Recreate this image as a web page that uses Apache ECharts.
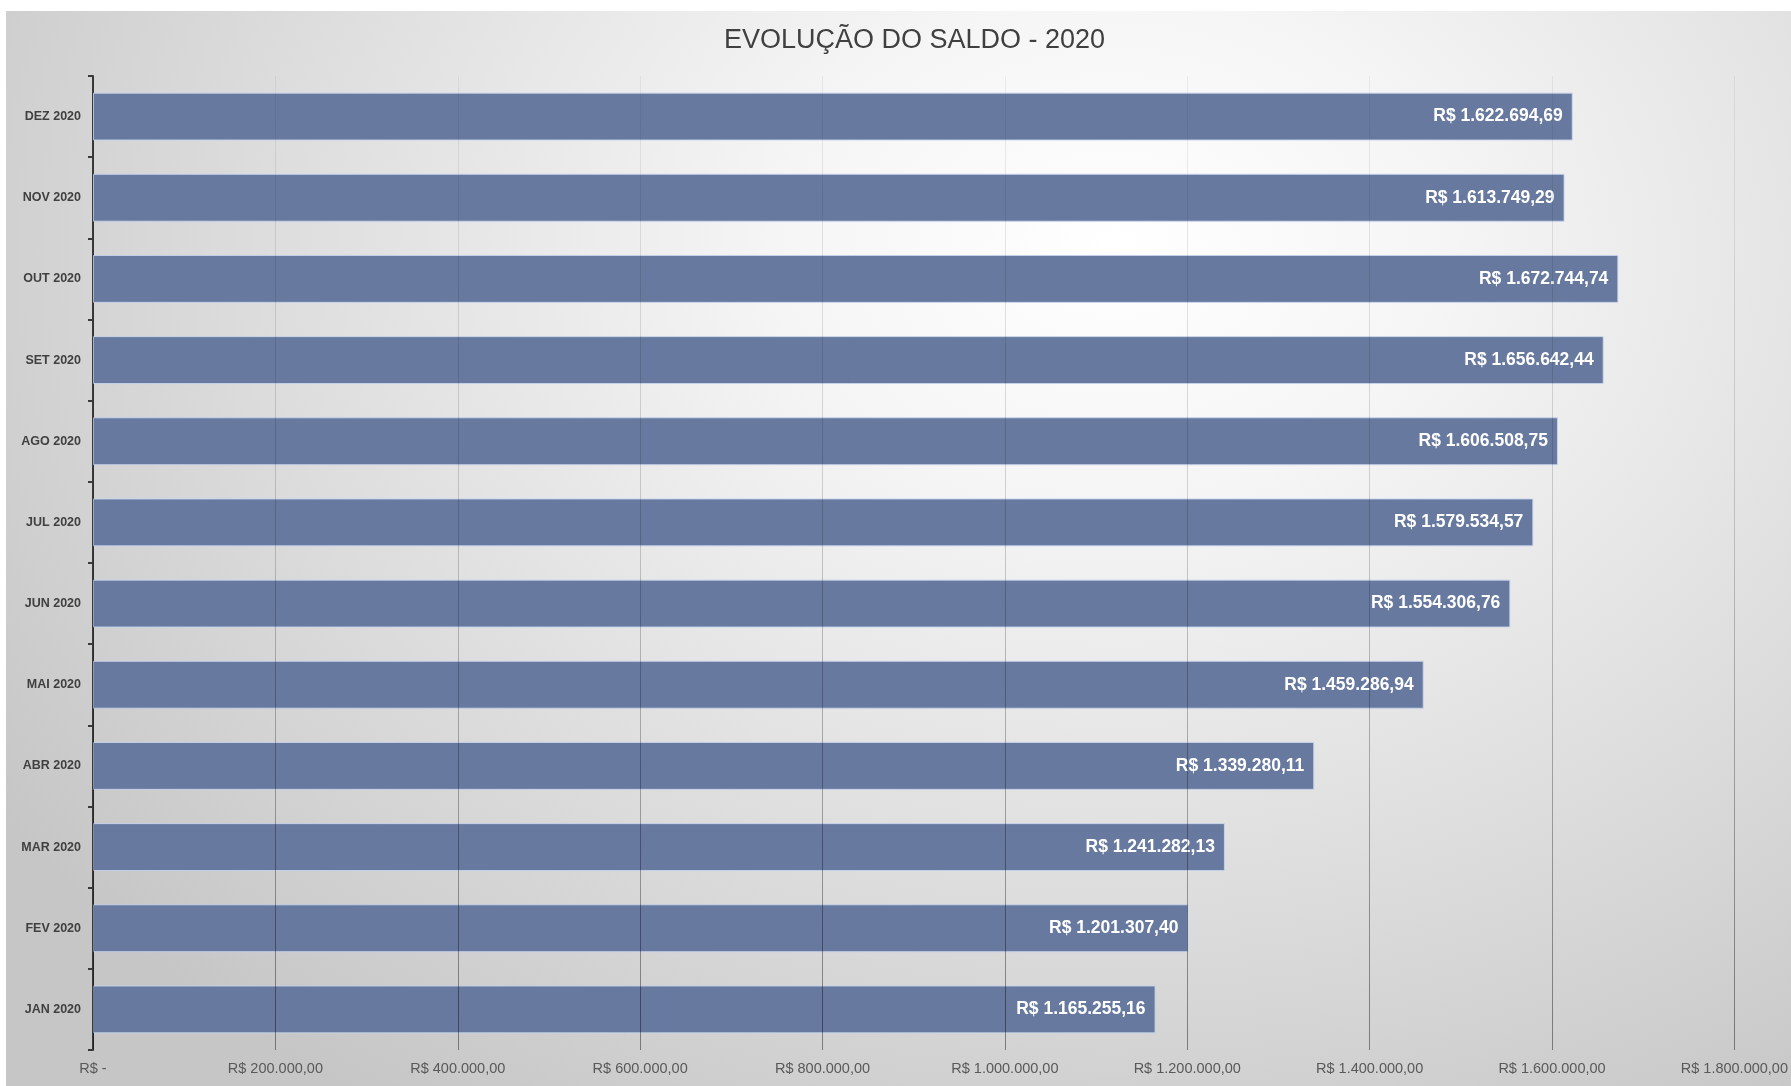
<!DOCTYPE html>
<html>
<head>
<meta charset="utf-8">
<script src="https://cdn.jsdelivr.net/npm/echarts@6/dist/echarts.min.js"></script>
<style>
html,body{margin:0;padding:0;background:#ffffff;width:1791px;height:1086px;overflow:hidden;}
#bg{position:absolute;left:6px;top:11px;width:1785px;height:1075px;
 background:radial-gradient(ellipse 75% 95% at 62% 22%, #ffffff 0%, #f5f5f5 25%, #dfdfdf 60%, #c6c6c6 100%);}
#chart{position:absolute;left:0;top:0;width:1785px;height:1075px;}
</style>
</head>
<body>
<div id="bg"><div id="chart"></div></div>
<script>
var titleText = 'EVOLUÇÃO DO SALDO - 2020';
var categories = ['JAN 2020','FEV 2020','MAR 2020','ABR 2020','MAI 2020','JUN 2020','JUL 2020','AGO 2020','SET 2020','OUT 2020','NOV 2020','DEZ 2020'];
var saldo = [1165255.16,1201307.40,1241282.13,1339280.11,1459286.94,1554306.76,1579534.57,1606508.75,1656642.44,1672744.74,1613749.29,1622694.69];
var axisMin = 0, axisMax = 1800000, axisStep = 200000;

function fmtBRL(v){
  var s = v.toFixed(2).split('.');
  var intPart = s[0].replace(/\B(?=(\d{3})+(?!\d))/g, '.');
  return 'R$ ' + intPart + ',' + s[1];
}

var gridTop = 65, gridBottom = 36, H = 1075;
var chart = echarts.init(document.getElementById('chart'), null, {renderer:'canvas'});
chart.setOption({
  backgroundColor: 'transparent',
  animation: false,
  title: {
    text: titleText,
    left: 713, top: 11,
    textStyle: {fontFamily:'Liberation Sans', fontSize:27, fontWeight:'normal', color:'#404040'}
  },
  grid: {left:87, right:43, top:gridTop, bottom:gridBottom, containLabel:false},
  xAxis: {
    type: 'value', min: axisMin, max: axisMax, interval: axisStep,
    z: 3,
    axisLine: {show:false}, axisTick: {show:false},
    splitLine: {show:true, lineStyle:{width:1, color: new echarts.graphic.LinearGradient(0, gridTop, 0, H - gridBottom, [
      {offset:0, color:'rgba(0,0,0,0.05)'},
      {offset:0.45, color:'rgba(0,0,0,0.16)'},
      {offset:1, color:'rgba(0,0,0,0.42)'}
    ], true)}},
    axisLabel: {
      margin: 11, color:'#595959', fontFamily:'Liberation Sans', fontSize:14.5,
      formatter: function(v){ return v === 0 ? 'R$ -' : fmtBRL(v); }
    }
  },
  yAxis: {
    type: 'category', data: categories,
    axisLine: {show:true, lineStyle:{color:'#3a3a3a', width:2}},
    axisTick: {show:true, length:5, lineStyle:{color:'#3a3a3a', width:2}},
    splitLine: {show:false},
    axisLabel: {margin:12, color:'#404040', fontFamily:'Liberation Sans', fontWeight:'bold', fontSize:12.5}
  },
  series: [{
    type: 'bar',
    data: saldo,
    barCategoryGap: '41%',
    itemStyle: {color:'#67799e', borderColor:'rgba(200,212,236,0.9)', borderWidth:1},
    label: {
      show: true, position: 'insideRight', distance: 10,
      color:'#ffffff', fontFamily:'Liberation Sans', fontWeight:'bold', fontSize:17.5,
      formatter: function(p){ return fmtBRL(p.value); }
    }
  }]
});
</script>
</body>
</html>
